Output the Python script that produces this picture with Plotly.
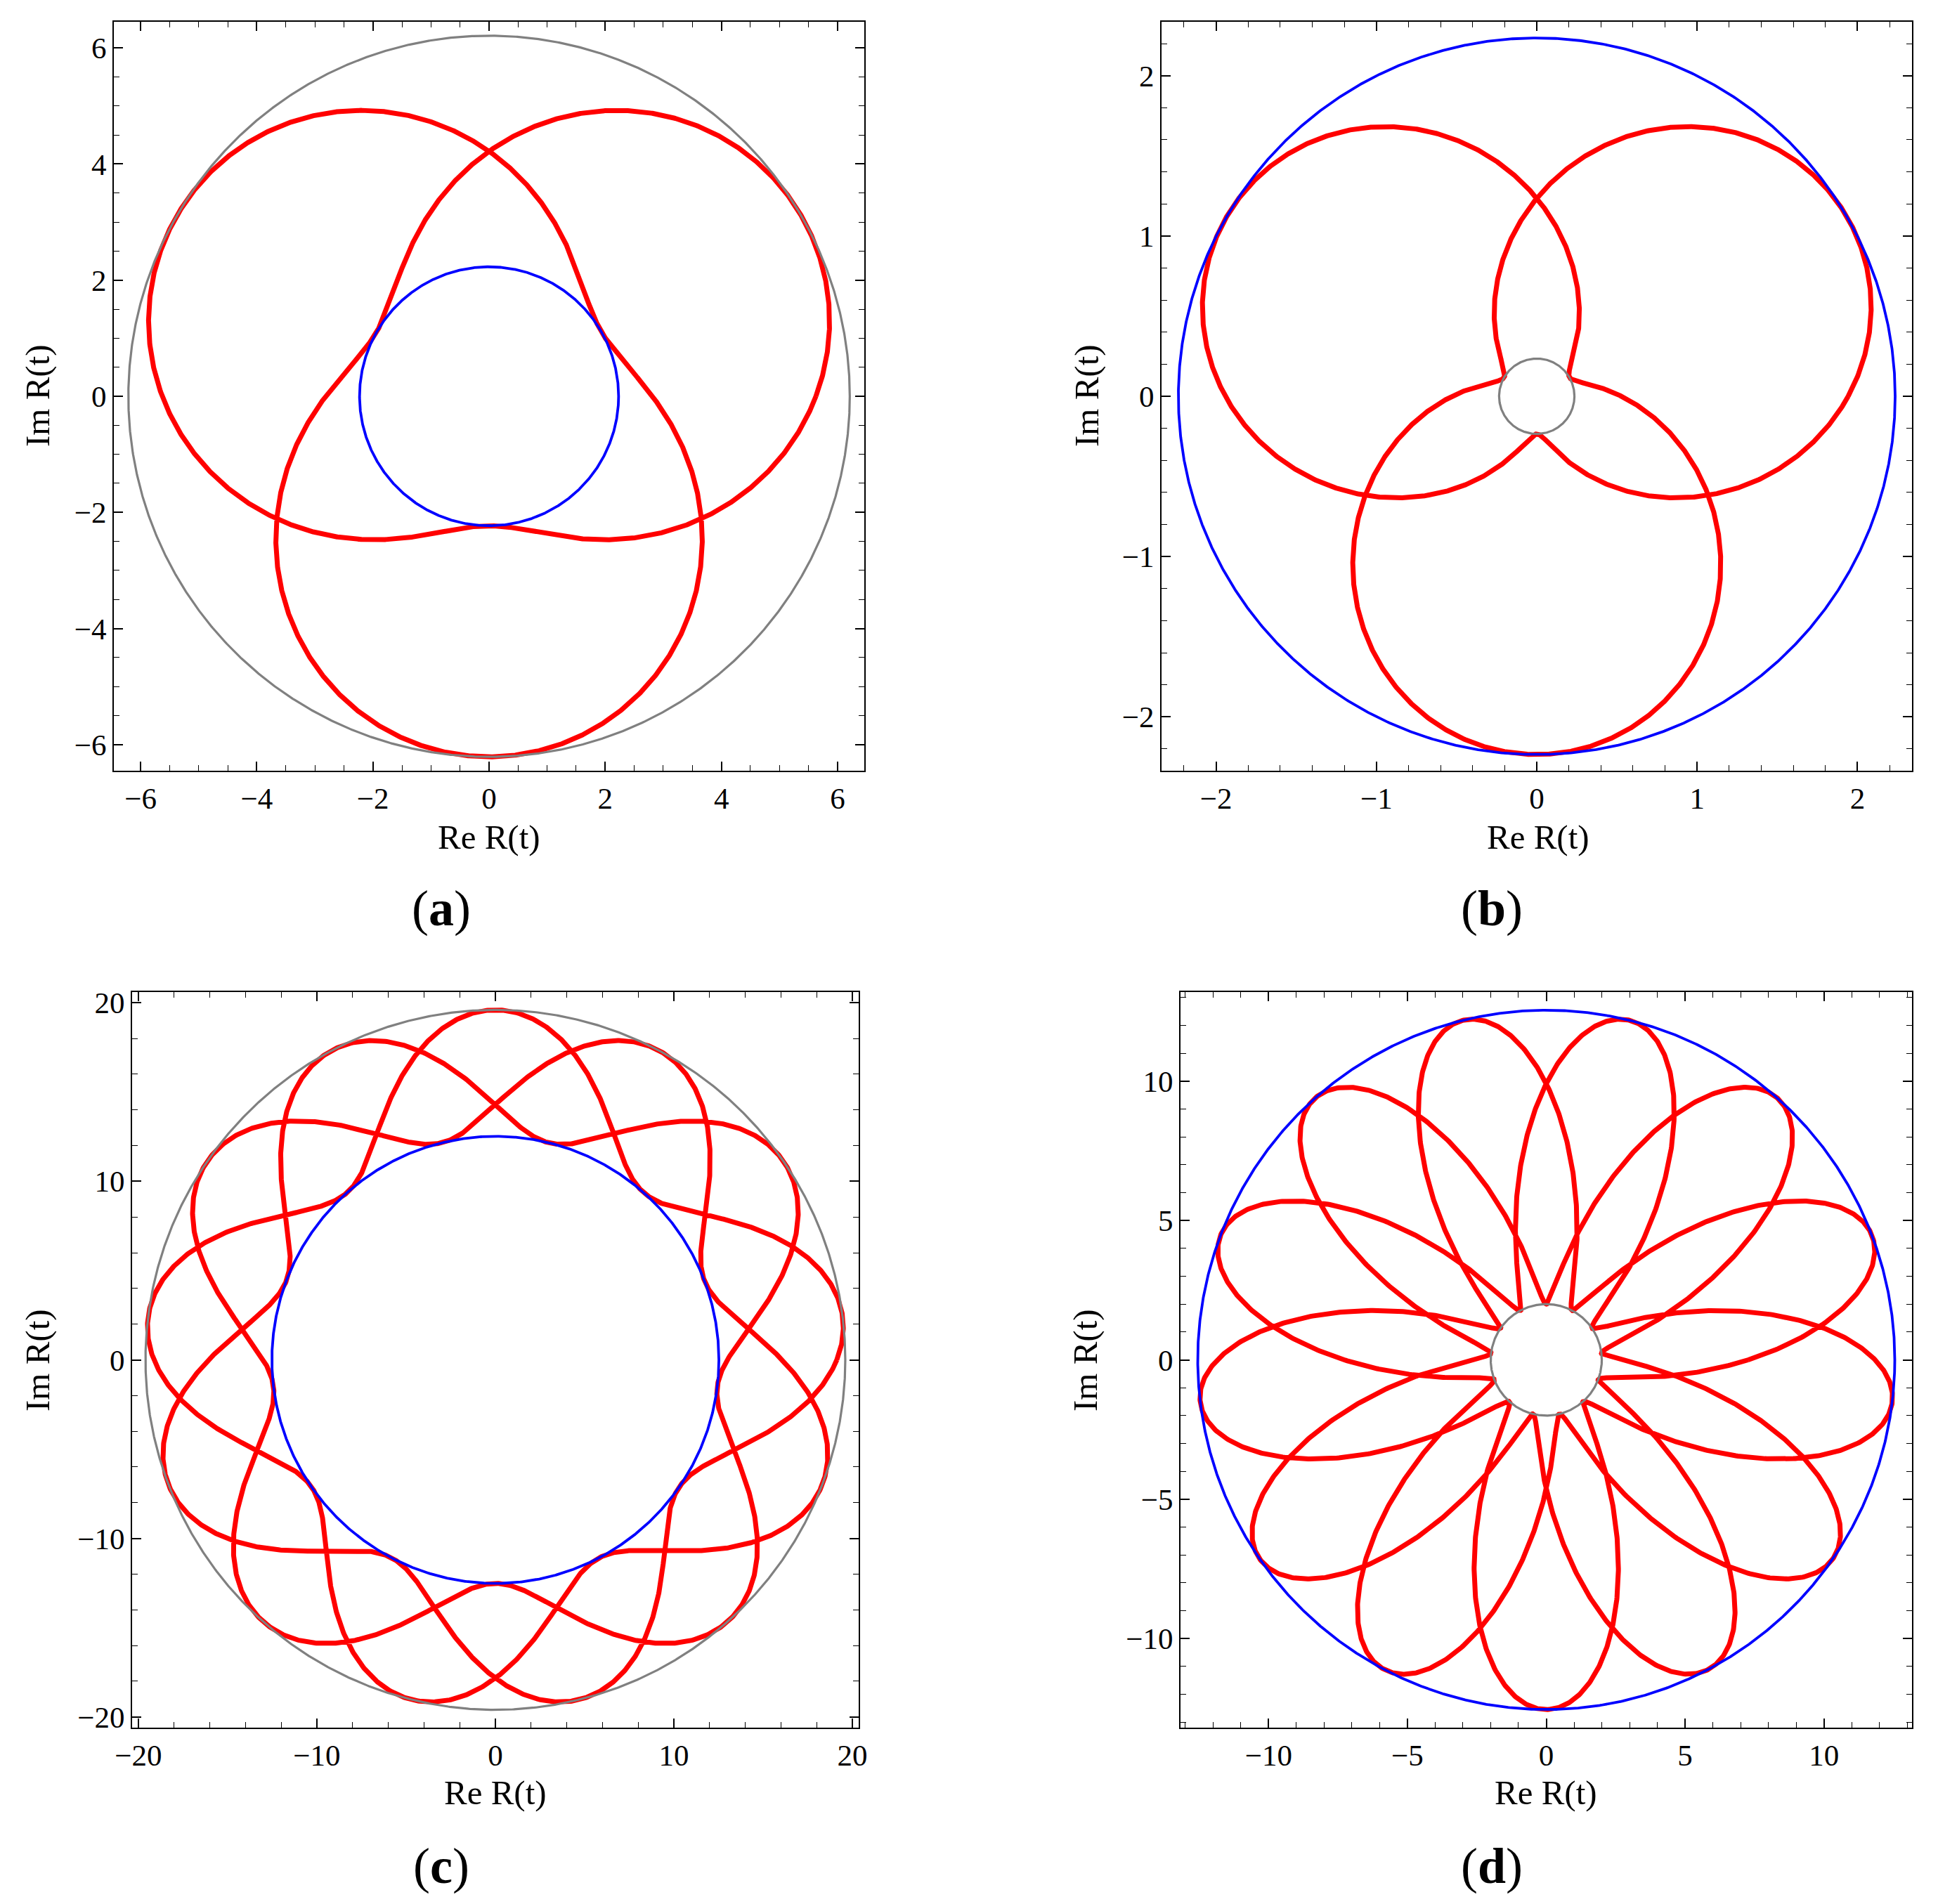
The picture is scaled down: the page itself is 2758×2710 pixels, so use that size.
import numpy as np
import plotly.graph_objects as go

W, H = 2758, 2710
PAGE_PAD = 8  # default body margin of the html page

# ---- data (one entry per panel a, b, c, d) ----
panel_names = ["a", "b", "c", "d"]
mean_radius = [4.22, 1.235, 16.06, 7.275]      # centre value of |R|
swing_radius = [1.99, 1.00, 3.54, 5.275]       # half of (max|R| - min|R|)
lobes = [3, 3, 13, 13]                         # touches of each bounding circle
turns = [2, 2, 3, 3]                           # windings of the closed curve
apex_angle_deg = [270, 270, 90, 270]           # direction of an outer touch
outer_circle_color = ["#808080", "#0000ff", "#808080", "#0000ff"]
inner_circle_color = ["#0000ff", "#808080", "#0000ff", "#808080"]

x_half_range = [6.46, 2.34, 20.35, 13.17]
y_half_range = [6.45, 2.336, 20.6, 13.2]
major_step = [2, 1, 10, 5]
minor_step = [0.5, 0.2, 2, 1]

# ---- layout (pixel frames of each panel) ----
frames = [(162, 31, 1230, 1097), (1653, 31, 2721, 1097),
          (188, 1412, 1222, 2459), (1680, 1412, 2721, 2459)]
xlabel_pos = [(696, 1191), (2189, 1191), (705, 2551), (2200, 2551)]
ylabel_pos = [(53, 563), (1546, 563), (53, 1936), (1544, 1936)]
tag_pos = [(628, 1293), (2123, 1293), (628, 2656), (2123, 2656)]


def px(x):
    return (x - PAGE_PAD) / W


def py(y):
    return 1 - (y - PAGE_PAD) / H


FONT = "Liberation Serif"
fig = go.Figure()
annotations = []

for i in range(4):
    xa = "x" if i == 0 else f"x{i+1}"
    ya = "y" if i == 0 else f"y{i+1}"
    A, B = mean_radius[i], swing_radius[i]
    k = lobes[i] / turns[i]
    apex = np.deg2rad(apex_angle_deg[i])
    th = np.linspace(0, 2 * np.pi * turns[i], 6000)
    r = A + B * np.cos(k * (th - apex))
    fig.add_trace(go.Scatter(x=r * np.cos(th), y=r * np.sin(th), mode="lines",
                             line=dict(color="#ff0000", width=7),
                             xaxis=xa, yaxis=ya, showlegend=False, hoverinfo="skip"))
    tc = np.linspace(0, 2 * np.pi, 1500)
    for rad, col in [(A + B, outer_circle_color[i]), (abs(A - B), inner_circle_color[i])]:
        wd = 3.8 if col == "#0000ff" else 3.2
        fig.add_trace(go.Scatter(x=rad * np.cos(tc), y=rad * np.sin(tc), mode="lines",
                                 line=dict(color=col, width=wd),
                                 xaxis=xa, yaxis=ya, showlegend=False, hoverinfo="skip"))

    x0, y0, x1, y1 = frames[i]
    common = dict(showgrid=False, zeroline=False, showline=True, linecolor="black",
                  linewidth=2, mirror="allticks", ticks="inside", ticklen=13,
                  tickwidth=1.6, tickcolor="black", automargin=False,
                  tickfont=dict(family=FONT, size=43, color="black"),
                  minor=dict(dtick=minor_step[i], ticks="inside", ticklen=8,
                             tickwidth=1.3, tickcolor="black", showgrid=False),
                  dtick=major_step[i], tick0=0)
    xkey = "xaxis" if i == 0 else f"xaxis{i+1}"
    ykey = "yaxis" if i == 0 else f"yaxis{i+1}"
    fig.update_layout(**{
        xkey: dict(domain=[px(x0), px(x1)], range=[-x_half_range[i], x_half_range[i]],
                   anchor=ya, **common),
        ykey: dict(domain=[py(y1), py(y0)], range=[-y_half_range[i], y_half_range[i]],
                   anchor=xa, **common),
    })

    annotations.append(dict(text="Re R(t)", x=px(xlabel_pos[i][0]), y=py(xlabel_pos[i][1]),
                            xref="paper", yref="paper", showarrow=False,
                            xanchor="center", yanchor="middle",
                            font=dict(family=FONT, size=49, color="black")))
    annotations.append(dict(text="Im R(t)", x=px(ylabel_pos[i][0]), y=py(ylabel_pos[i][1]),
                            xref="paper", yref="paper", showarrow=False, textangle=-90,
                            xanchor="center", yanchor="middle",
                            font=dict(family=FONT, size=49, color="black")))
    annotations.append(dict(text=f"(<b>{panel_names[i]}</b>)", x=px(tag_pos[i][0]),
                            y=py(tag_pos[i][1]), xref="paper", yref="paper",
                            showarrow=False, xanchor="center", yanchor="middle",
                            font=dict(family=FONT, size=72, color="black")))

fig.update_layout(width=W, height=H,
                  margin=dict(l=0, r=0, t=0, b=0, pad=0, autoexpand=False),
                  paper_bgcolor="white", plot_bgcolor="white",
                  annotations=annotations, showlegend=False)

fig.write_html("out.html")
